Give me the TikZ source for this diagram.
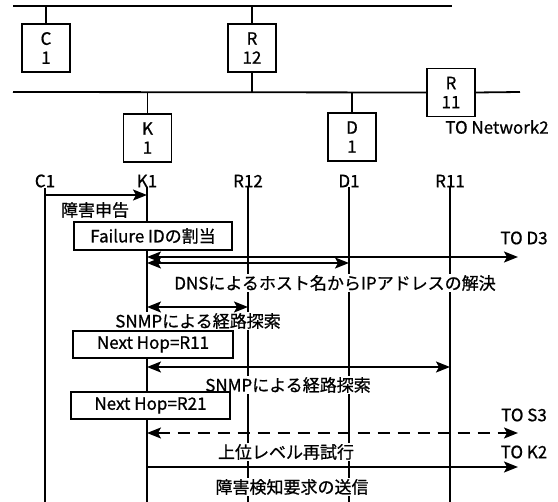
\documentclass[tikz,border=0pt]{standalone}
\usepackage{fontspec}
\setmainfont{Noto Sans CJK JP}[FakeBold=0.8]
\usetikzlibrary{arrows.meta}
\tikzset{
  lbl/.style={font=\fontsize{17}{19}\selectfont, inner sep=0pt},
  host/.style={lbl, draw, line width=1.4pt, minimum width=48pt, minimum height=48pt, align=center},
  netline/.style={line width=1.8pt},
  life/.style={line width=1.4pt},
  msg/.style={line width=1.5pt},
  tip/.style={{Stealth[length=14pt,width=11pt,inset=3pt]}-{Stealth[length=14pt,width=11pt,inset=3pt]}},
  rtip/.style={-{Stealth[length=14pt,width=11pt,inset=3pt]}},
  note/.style={lbl, draw, fill=white, line width=1.4pt, minimum height=27pt},
  cut/.style={lbl, fill=white, inner xsep=1pt, inner ysep=1pt},
}
\begin{document}
\begin{tikzpicture}[x=1pt,y=-1pt]
\useasboundingbox (0,0) rectangle (558,502);
% network part
\coordinate (t0) at (13,6);
\coordinate (t1) at (452,6);
\coordinate (n0) at (13,92);
\coordinate (n1) at (520,92);
\draw[netline] (t0) -- (t1);
\node[host] (c1) at (46,48) {C\\1};
\node[host] (r12) at (252,48) {R\\12};
\node[host] (k1) at (147.5,138) {K\\1};
\node[host] (d1) at (352,137) {D\\1};
\node[host] (r11) at (451,92.5) {R\\11};
\draw[netline] (n0) -- (r11.west);
\draw[netline] (r11.east) -- (n1);
\draw[life] (c1.north) -- (c1.north |- t0);
\draw[life] (r12.north) -- (r12.north |- t0);
\draw[life] (r12.south) -- (r12.south |- n0);
\draw[life] (k1.north) -- (k1.north |- n0);
\draw[life] (d1.north) -- (d1.north |- n0);
\node[lbl] (tonet) at (497,127) {TO Network2};
% lifelines
\node[lbl] (lc) at (45,181) {C1};
\node[lbl] (lk) at (147,181) {K1};
\node[lbl] (lr12) at (248,181) {R12};
\node[lbl] (ld) at (349,181) {D1};
\node[lbl] (lr11) at (450,181) {R11};
\coordinate (bc) at (45,502);
\coordinate (bk) at (147,502);
\coordinate (br12) at (248,502);
\coordinate (bd) at (349,502);
\coordinate (br11) at (450,502);
\draw[life] (lc.south) -- (bc);
\draw[life] (lk.south) -- (bk);
\draw[life] (lr12.south) -- (br12);
\draw[life] (ld.south) -- (bd);
\draw[life] (lr11.south) -- (br11);
% labels
\node[lbl] (t1lab) at (95,210) {障害申告};
\node[note, minimum width=158pt, minimum height=28pt] (fid) at (153,236) {Failure IDの割当};
\node[lbl] (tod3) at (524,238) {TO D3};
\node[cut] (dns) at (335,283) {DNSによるホスト名からIPアドレスの解決};
\node[cut] (snmp1) at (198,321) {SNMPによる経路探索};
\node[note, minimum width=160pt] (nh1) at (153,344.5) {Next Hop=R11};
\node[cut] (snmp2) at (288,385) {SNMPによる経路探索};
\node[note, minimum width=159pt] (nh2) at (150.5,405.5) {Next Hop=R21};
\node[lbl] (tos3) at (524,415) {TO S3};
\node[cut] (retry) at (286,452) {上位レベル再試行};
\node[lbl] (tok2) at (524,452) {TO K2};
\node[cut] (send) at (292,487) {障害検知要求の送信};
% messages
\coordinate (m1a) at (45,195);   \coordinate (m1b) at (147,195);
\coordinate (m2a) at (147,257);  \coordinate (m2b) at (518,257);
\coordinate (m3a) at (147,263);  \coordinate (m3b) at (349,263);
\coordinate (m4a) at (147,307);  \coordinate (m4b) at (248,307);
\coordinate (m5a) at (147,367);  \coordinate (m5b) at (450,367);
\coordinate (m6a) at (147,433);  \coordinate (m6b) at (518,433);
\coordinate (m7a) at (147,467);  \coordinate (m7b) at (518,467);
\draw[msg, rtip] (m1a) -- (m1b);
\draw[msg, tip] (m2a) -- (m2b);
\draw[msg, tip] (m3a) -- (m3b);
\draw[msg, tip] (m4a) -- (m4b);
\draw[msg, tip] (m5a) -- (m5b);
\draw[msg, tip, dash pattern=on 12pt off 8pt] (m6a) -- (m6b);
\draw[msg, rtip] (m7a) -- (m7b);
\end{tikzpicture}
\end{document}
